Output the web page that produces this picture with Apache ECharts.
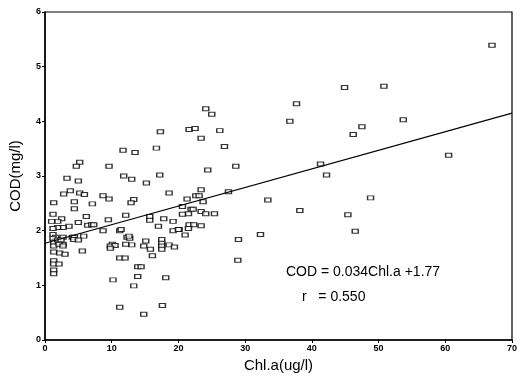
<!DOCTYPE html>
<html>
<head>
<meta charset="utf-8">
<script src="https://cdn.jsdelivr.net/npm/echarts@6/dist/echarts.min.js"></script>
<style>
  html, body { margin: 0; padding: 0; background: #fff; }
  #chart { width: 520px; height: 378px; }
</style>
</head>
<body>
<div id="chart"></div>
<script>
// Chl.a (ug/l) vs COD (mg/l)
const chlA = [
  67.0, 44.9, 50.8, 53.7, 47.5, 46.2, 60.5, 37.7, 36.7, 24.1, 25.0, 21.6, 22.5, 26.2, 23.4, 26.9,
  24.4, 28.6, 41.3, 42.2, 48.8, 45.4, 46.5, 27.5, 33.4, 38.2, 29.0, 32.3, 28.9,
  23.4, 22.6, 23.1, 21.3, 23.7, 20.6, 21.9, 22.2, 21.5, 23.4, 24.1, 25.4, 20.1, 21.6, 22.3, 23.4,
  21.5, 21.0, 20.6,
  17.3, 11.7, 13.5, 16.7, 11.8, 13.0, 15.2, 17.2, 18.6, 13.3, 12.9, 12.1, 15.7, 15.7, 17.8, 19.2,
  11.2, 17.0, 19.2, 20.0, 12.3, 12.7, 13.0, 15.1, 14.8, 15.8, 17.5, 17.5, 17.5, 17.5, 18.6, 19.4,
  16.1, 11.2, 12.0, 13.9, 14.4, 13.9, 18.1, 13.3, 11.2, 17.6, 14.8,
  5.2, 4.7, 9.6, 3.3, 5.0, 3.8, 2.8, 5.2, 5.9, 8.7, 9.6, 7.1, 4.4, 1.3, 4.4, 1.2, 6.2, 2.5, 1.9,
  1.0, 9.5, 5.0, 6.4, 7.0, 7.3, 3.6, 2.7, 1.9, 1.2, 8.7, 11.4, 4.1, 4.4, 5.8, 1.2, 1.6, 1.2, 2.7,
  1.3, 2.1, 2.7, 10.1, 12.1, 12.6, 1.9, 2.4, 4.3, 5.0, 1.3, 2.1, 2.7, 1.3, 2.2, 3.0, 5.6, 9.8,
  10.5, 9.8, 1.3, 1.3, 2.1, 1.3, 1.3, 10.2
];
const cod = [
  5.39, 4.62, 4.64, 4.03, 3.90, 3.76, 3.38, 4.32, 4.00, 4.23, 4.13, 3.85, 3.87, 3.83, 3.69, 3.54,
  3.11, 3.18, 3.22, 3.02, 2.60, 2.29, 1.99, 2.71, 2.56, 2.37, 1.84, 1.93, 1.46,
  2.75, 2.64, 2.64, 2.58, 2.53, 2.44, 2.39, 2.39, 2.31, 2.35, 2.31, 2.31, 2.02, 2.11, 2.11, 2.09,
  2.04, 1.92, 2.30,
  3.81, 3.47, 3.43, 3.51, 3.00, 2.94, 2.87, 3.02, 2.69, 2.57, 2.51, 2.28, 2.26, 2.19, 2.22, 2.17,
  2.00, 2.08, 2.00, 2.02, 1.88, 1.86, 1.74, 1.81, 1.72, 1.66, 1.84, 1.77, 1.72, 1.66, 1.74, 1.70,
  1.54, 1.50, 1.50, 1.34, 1.34, 1.16, 1.14, 0.99, 0.60, 0.63, 0.47,
  3.25, 3.18, 3.18, 2.96, 2.91, 2.73, 2.67, 2.69, 2.66, 2.64, 2.58, 2.49, 2.53, 2.51, 2.40, 2.30,
  2.26, 2.22, 2.17, 2.17, 2.20, 2.15, 2.10, 2.11, 2.11, 2.08, 2.06, 2.06, 2.04, 2.00, 2.02, 1.88,
  1.88, 1.90, 1.93, 1.88, 1.86, 1.88, 1.79, 1.77, 1.75, 1.75, 1.75, 1.90, 1.83, 1.83, 1.84, 1.83,
  1.72, 1.75, 1.72, 1.61, 1.59, 1.57, 1.63, 1.72, 1.73, 1.68, 1.45, 1.39, 1.39, 1.28, 1.21, 1.10
];
// regression COD = 0.034Chl.a + 1.77
const slope = 0.034;
const intercept = 1.77;
const xRange = [0, 70];
const yRange = [0, 6];

const points = chlA.map((x, i) => [x, cod[i]]);
const fitLine = xRange.map(x => [x, slope * x + intercept]);

const chart = echarts.init(document.getElementById('chart'));
const tickLabel = {fontSize: 9, fontWeight: 'bold', color: '#000', fontFamily: 'Liberation Sans, Arial'};
chart.setOption({
  animation: false,
  grid: {left: 44, right: 3, top: 12, bottom: 34, show: true, borderColor: '#000', borderWidth: 1.2},
  xAxis: {
    type: 'value', min: xRange[0], max: xRange[1], interval: 10,
    name: 'Chl.a(ug/l)', nameLocation: 'middle', nameGap: 18,
    nameTextStyle: {fontSize: 15, color: '#000', fontFamily: 'Liberation Sans, Arial'},
    axisLine: {lineStyle: {color: '#000', width: 1.5}},
    axisTick: {length: 3, lineStyle: {color: '#000'}},
    axisLabel: Object.assign({margin: 4}, tickLabel),
    splitLine: {show: false}
  },
  yAxis: {
    type: 'value', min: yRange[0], max: yRange[1], interval: 1,
    name: 'COD(mg/l)', nameLocation: 'middle', nameGap: 22,
    nameTextStyle: {fontSize: 15, color: '#000', fontFamily: 'Liberation Sans, Arial'},
    axisLine: {lineStyle: {color: '#000', width: 1.5}},
    axisTick: {length: 3, lineStyle: {color: '#000'}},
    axisLabel: Object.assign({margin: 4}, tickLabel),
    splitLine: {show: false}
  },
  graphic: [
    {type: 'text', left: 286, top: 265, style: {text: 'COD = 0.034Chl.a +1.77', fontSize: 14, fill: '#000', fontFamily: 'Liberation Sans, Arial'}},
    {type: 'text', left: 302, top: 290, style: {text: 'r   = 0.550', fontSize: 14, fill: '#000', fontFamily: 'Liberation Sans, Arial'}}
  ],
  series: [
    {
      type: 'line', data: fitLine, symbol: 'none', silent: true,
      lineStyle: {color: '#000', width: 1.2}
    },
    {
      type: 'scatter', data: points, symbol: 'rect', symbolSize: [6, 4],
      itemStyle: {color: '#fff', borderColor: '#000', borderWidth: 1.2}
    }
  ]
});
</script>
</body>
</html>
